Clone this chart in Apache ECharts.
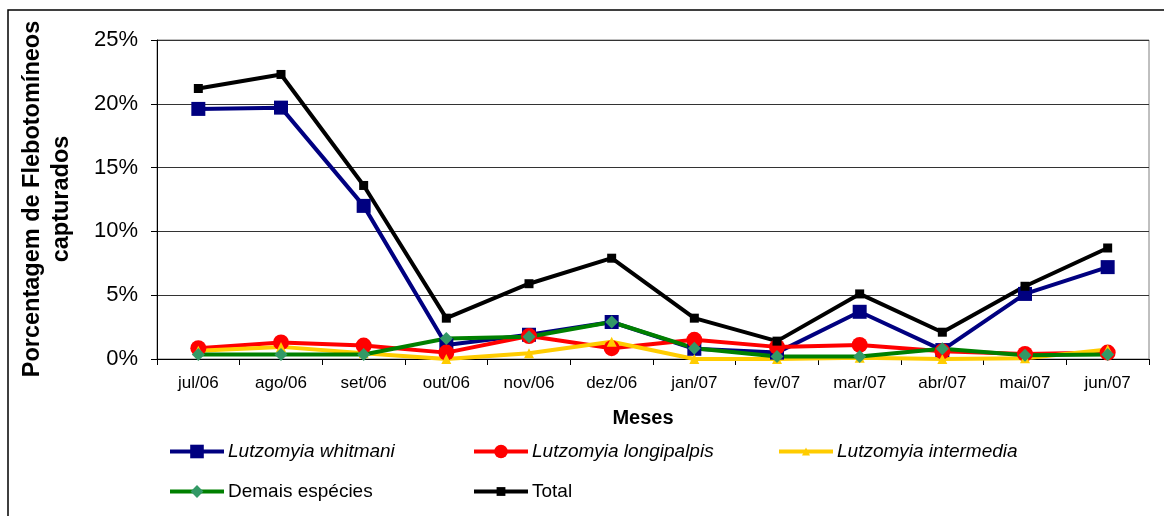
<!DOCTYPE html>
<html>
<head>
<meta charset="utf-8">
<script src="https://cdn.jsdelivr.net/npm/echarts@6/dist/echarts.min.js"></script>
<style>
  html, body { margin: 0; padding: 0; background: #fff; }
  #chart { width: 1164px; height: 516px; }
</style>
</head>
<body>
<div id="chart"></div>
<script>
// Monthly share (%) of captured sand flies, Jul/2006 - Jun/2007
const months = ['jul/06', 'ago/06', 'set/06', 'out/06', 'nov/06', 'dez/06',
                'jan/07', 'fev/07', 'mar/07', 'abr/07', 'mai/07', 'jun/07'];
const whitmani     = [19.6, 19.7, 12.0, 1.1, 1.9, 2.9, 0.8, 0.5, 3.7, 0.7, 5.1, 7.2];
const longipalpis  = [0.85, 1.3, 1.05, 0.5, 1.8, 0.85, 1.5, 0.95, 1.1, 0.6, 0.4, 0.5];
const intermedia   = [0.65, 0.95, 0.45, 0.0, 0.45, 1.35, 0.0, 0.0, 0.1, 0.0, 0.05, 0.75];
const demais       = [0.35, 0.35, 0.35, 1.6, 1.75, 2.9, 0.85, 0.2, 0.2, 0.8, 0.3, 0.35];
const total        = [21.2, 22.3, 13.6, 3.2, 5.9, 7.9, 3.2, 1.4, 5.1, 2.1, 5.7, 8.7];
const yTicks = { min: 0, max: 25, step: 5 };

const FONT = '"Liberation Sans", Arial, sans-serif';
const chart = echarts.init(document.getElementById('chart'), null, { renderer: 'canvas' });

function lineSeries(name, data, color, symbol, size, markerColor) {
  return {
    name, type: 'line', data,
    symbol, symbolSize: size,
    lineStyle: { color, width: 4 },
    itemStyle: { color: markerColor || color, borderWidth: 0 },
    emphasis: { disabled: true },
    animation: false
  };
}

function legendAt(name, left, top, italic, iconH) {
  return {
    data: [{ name, textStyle: { fontStyle: italic ? 'italic' : 'normal' } }],
    left, top, padding: 0,
    itemWidth: 54, itemHeight: iconH, itemGap: 0,
    lineStyle: { width: 4 },
    textStyle: { fontFamily: FONT, fontSize: 19, color: '#000', padding: [0, 0, 0, -1] }
  };
}

chart.setOption({
  backgroundColor: '#fff',
  animation: false,
  grid: {
    left: 157, right: 15, top: 40, bottom: 157,
    show: true, borderColor: '#808080', borderWidth: 1
  },
  xAxis: {
    type: 'category',
    data: months,
    boundaryGap: true,
    axisLine: { lineStyle: { color: '#000', width: 1 } },
    axisTick: { show: true, inside: false, length: 6, lineStyle: { color: '#000' } },
    axisLabel: { color: '#000', fontFamily: FONT, fontSize: 17, margin: 16 },
    splitLine: { show: false }
  },
  yAxis: {
    type: 'value',
    min: yTicks.min, max: yTicks.max, interval: yTicks.step,
    axisLine: { show: true, lineStyle: { color: '#000', width: 1 } },
    axisTick: { show: true, inside: false, length: 6, lineStyle: { color: '#000' } },
    axisLabel: { color: '#000', fontFamily: FONT, fontSize: 22, margin: 19, formatter: '{value}%' },
    splitLine: { show: true, lineStyle: { color: '#333', width: 1 } }
  },
  legend: [
    legendAt('Lutzomyia whitmani', 168, 442, true, 17),
    legendAt('Lutzomyia longipalpis', 472, 442, true, 17),
    legendAt('Lutzomyia intermedia', 777, 442, true, 10),
    legendAt('Demais espécies', 168, 482, false, 16),
    legendAt('Total', 472, 482, false, 11)
  ],
  series: [
    lineSeries('Lutzomyia whitmani', whitmani, '#000080', 'rect', 14),
    lineSeries('Lutzomyia longipalpis', longipalpis, '#FF0000', 'circle', 16),
    lineSeries('Lutzomyia intermedia', intermedia, '#FFCC00', 'triangle', 10),
    lineSeries('Demais espécies', demais, '#008000', 'diamond', 13, '#339966'),
    lineSeries('Total', total, '#000000', 'rect', 9)
  ],
  graphic: [
    {
      type: 'rect', silent: true, z: 100,
      shape: { x: 8, y: 10, width: 1170, height: 520 },
      style: { fill: 'none', stroke: '#000', lineWidth: 1.5 }
    },
    {
      type: 'text', x: 47.5, y: 199, rotation: Math.PI / 2, silent: true,
      style: {
        text: 'Porcentagem de Flebotomíneos\ncapturados',
        fontFamily: FONT, fontSize: 23.5, fontWeight: 'bold', fill: '#000',
        align: 'center', verticalAlign: 'middle', lineHeight: 29
      }
    },
    {
      type: 'text', x: 643, y: 418, silent: true,
      style: {
        text: 'Meses', fontFamily: FONT, fontSize: 20, fontWeight: 'bold', fill: '#000',
        align: 'center', verticalAlign: 'middle'
      }
    }
  ]
});
</script>
</body>
</html>
